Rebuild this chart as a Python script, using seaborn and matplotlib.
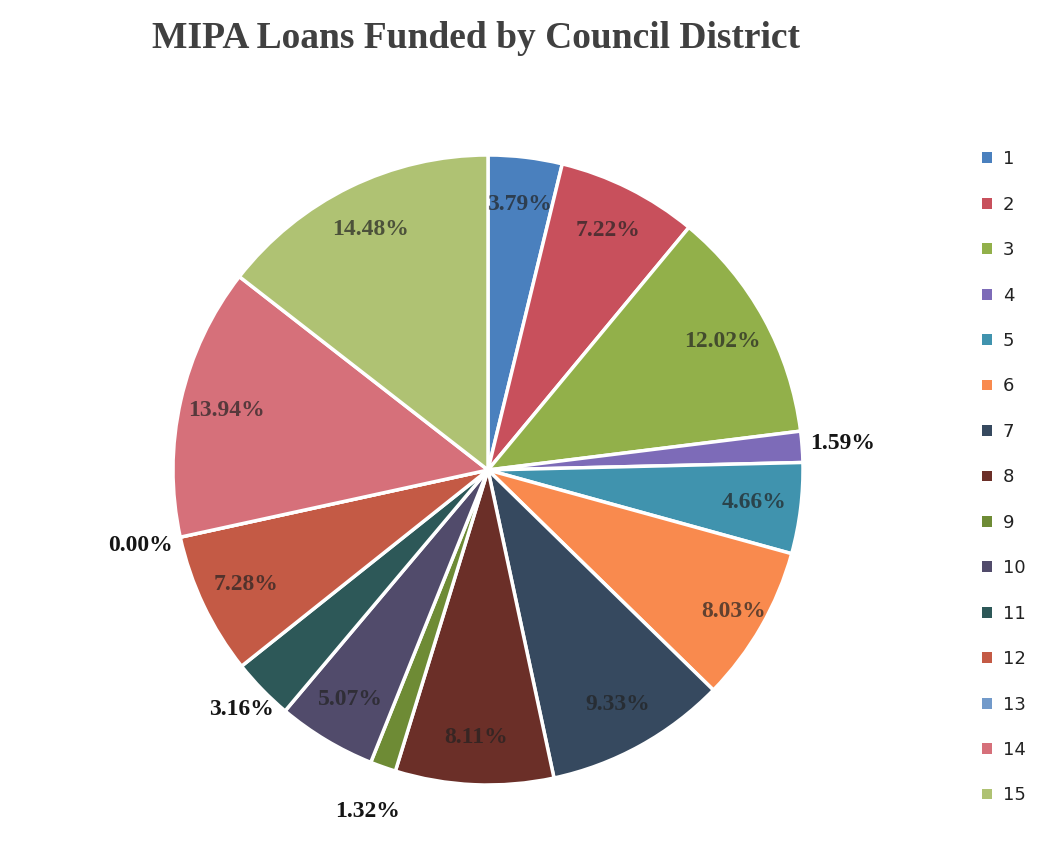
import matplotlib
matplotlib.use("Agg")
import matplotlib.pyplot as plt
import seaborn as sns
import numpy as np

districts = ["1", "2", "3", "4", "5", "6", "7", "8", "9", "10", "11", "12", "13", "14", "15"]
shares = [3.79, 7.22, 12.02, 1.59, 4.66, 8.03, 9.33, 8.11, 1.32, 5.07, 3.16, 7.28, 0.00, 13.94, 14.48]
label_text = ["3.79%", "7.22%", "12.02%", "1.59%", "4.66%", "8.03%", "9.33%", "8.11%",
              "1.32%", "5.07%", "3.16%", "7.28%", "0.00%", "13.94%", "14.48%"]
outside = [False, False, False, True, False, False, False, False,
           True, False, True, False, True, False, False]
colors = ["#4A80BE", "#C8505C", "#92B04A", "#7D6BB8", "#4093AE", "#F98A4E", "#36495F",
          "#6B2F28", "#6E8B35", "#514B6B", "#2D5858", "#C45A45", "#729ACA", "#D6707A", "#AFC273"]
label_r = [0.85, 0.85, 0.85, 1.13, 0.85, 0.90, 0.85, 0.85, 1.15, 0.85, 1.09, 0.85, 1.13, 0.85, 0.85]

sns.set_theme(style="white")
plt.rcParams['font.family'] = ['DejaVu Sans']

fig = plt.figure(figsize=(10.42, 8.61), dpi=100)
ax = fig.add_axes([173/1042, (861-785)/861, 630/1042, 630/861])
palette = sns.color_palette(colors)
wedges, _ = ax.pie(shares, colors=palette, startangle=90, counterclock=False,
                   wedgeprops=dict(edgecolor="white", linewidth=2.5))
ax.set_xlim(-1, 1)
ax.set_ylim(-1, 1)
ax.set_aspect('auto')
ax.axis('off')

for w, txt, out, r in zip(wedges, label_text, outside, label_r):
    ang = np.deg2rad((w.theta1 + w.theta2) / 2)
    x, y = r * np.cos(ang), r * np.sin(ang)
    ax.text(x, y, txt, ha="center", va="center", fontsize=17, fontweight="bold",
            family=["Liberation Serif"], color="#151515" if out else "#222222",
            alpha=1.0 if out else 0.7, clip_on=False)

fig.text(476/1042, 1 - 38/861, "MIPA Loans Funded by Council District", ha="center", va="center",
         fontsize=27, fontweight="bold", family=["Liberation Serif"], color="#404040")

leg = fig.legend(wedges, districts, loc="upper left", bbox_to_anchor=(975/1042, 1 - 143/861),
                 frameon=False, fontsize=13, handlelength=0.55, handleheight=0.55,
                 handletextpad=0.6, labelspacing=1.52, borderaxespad=0)
for t in leg.get_texts():
    t.set_color("#222222")
for h in leg.legend_handles:
    h.set_linewidth(0)

fig.savefig("out.png", dpi=100, facecolor="white")
